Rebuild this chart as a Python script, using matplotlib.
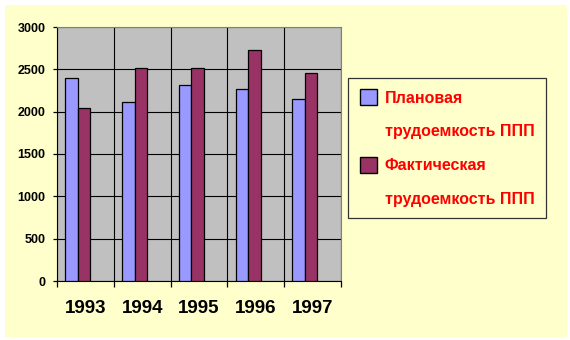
import matplotlib.pyplot as plt
from matplotlib.patches import Patch, Rectangle
import numpy as np

years = ['1993', '1994', '1995', '1996', '1997']
plan = [2400, 2110, 2310, 2270, 2150]
fact = [2040, 2510, 2510, 2730, 2455]
lbl_plan = 'Плановая'
lbl_fact = 'Фактическая'
lbl_tail = 'трудоемкость ППП'

yellow = '#FFFFCC'
c_plan = '#9999FF'
c_fact = '#993366'

plt.rcParams['font.family'] = ['Liberation Sans', 'DejaVu Sans']

fig = plt.figure(figsize=(5.7, 3.4), dpi=100, facecolor='white')
# yellow slide background
fig.patches.append(Rectangle((5 / 570, 3 / 340), 562 / 570, 332 / 340,
                             transform=fig.transFigure, facecolor=yellow,
                             edgecolor='none', zorder=-10))

ax = fig.add_axes([57 / 570, 59 / 340, 284 / 570, 254 / 340])
ax.set_facecolor('#C0C0C0')

x = np.arange(len(years))
w = 0.22
ax.bar(x + 0.146, plan, width=w, align='edge', color=c_plan,
       edgecolor='black', linewidth=0.9, zorder=3)
ax.bar(x + 0.146 + w, fact, width=w, align='edge', color=c_fact,
       edgecolor='black', linewidth=0.9, zorder=3)

ax.set_xlim(0, 5)
ax.set_ylim(0, 3000)
ax.set_yticks(np.arange(0, 3001, 500))
ax.set_xticks(np.arange(0, 6))
ax.set_xticklabels([])
ax.set_xticks(x + 0.5, minor=True)
ax.set_xticklabels(years, minor=True, fontsize=13.5, fontweight='bold')
ax.tick_params(axis='x', which='major', direction='out', length=4.5, width=0.9)
ax.tick_params(axis='x', which='minor', length=0, pad=14)
ax.tick_params(axis='y', direction='out', length=3.2, width=0.9, pad=5,
               labelsize=9)
for t in ax.get_yticklabels():
    t.set_fontweight('bold')

ax.grid(True, which='major', color='black', linewidth=0.8, zorder=0)
ax.set_axisbelow(True)
for s in ['top', 'right']:
    ax.spines[s].set_color('#808080')
for s in ['left', 'bottom']:
    ax.spines[s].set_color('black')

handles = [Patch(facecolor=c_plan, edgecolor='black'),
           Patch(facecolor='none', edgecolor='none'),
           Patch(facecolor=c_fact, edgecolor='black'),
           Patch(facecolor='none', edgecolor='none')]
labels = [lbl_plan, lbl_tail, lbl_fact, lbl_tail]
leg = fig.legend(handles, labels, loc='upper left',
                 bbox_to_anchor=(348 / 570, 1 - 78 / 340),
                 prop={'size': 11.5, 'weight': 'bold'},
                 handlelength=1.12, handleheight=1.12, handletextpad=0.45,
                 labelspacing=1.1, borderpad=0.72, borderaxespad=0,
                 fancybox=False, framealpha=1, facecolor=yellow,
                 edgecolor='#333333')
leg.get_frame().set_linewidth(0.9)
for t in leg.get_texts():
    t.set_color('#FF0000')

plt.savefig('out.png', dpi=100, facecolor='white')
